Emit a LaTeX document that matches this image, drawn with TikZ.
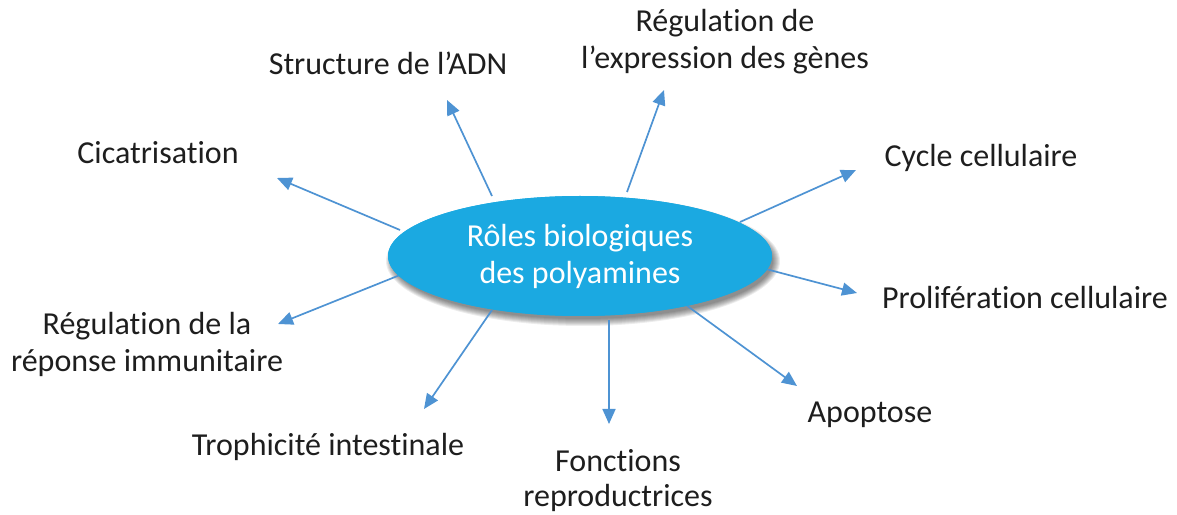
\documentclass[tikz,border=0pt]{standalone}
\usepackage{fontspec}
\setmainfont[RawFeature={-liga;-calt;-clig;-dlig}]{Carlito}
\usetikzlibrary{shapes.geometric,arrows.meta}
\definecolor{ellfill}{HTML}{1BA9E1}
\definecolor{arrcol}{HTML}{4E93D3}
\definecolor{txtcol}{HTML}{1E1E1E}
\tikzset{
  lbl/.style={text=txtcol,font=\fontsize{32bp}{37bp}\selectfont,inner sep=0pt,align=center},
  conn/.style={draw=arrcol,line width=1.7bp,-{Triangle[length=15bp,width=13bp]}},
}
\begin{document}
\begin{tikzpicture}[x=1bp,y=-1bp]
\useasboundingbox (0,0) rectangle (1177,515);
% soft shadow
\foreach \k in {0,...,7} {
  \fill[black,opacity=0.07] (583,261) ellipse [x radius={190+7-\k}, y radius={58+7-\k}];
}
\node[ellipse,fill=ellfill,minimum width=384bp,minimum height=120bp,inner sep=0pt,
  text=white,font=\fontsize{32bp}{37bp}\selectfont,align=center] (c) at (580,256)
  {Rôles biologiques\\des polyamines};

\node[lbl] (adn) at (388,63) {Structure de l’ADN};
\node[lbl] (expr) at (725,42) {Régulation de\\l’expression des gènes};
\node[lbl] (cica) at (158,153) {Cicatrisation};
\node[lbl] (cyc) at (981,158) {Cycle cellulaire};
\node[lbl] (prol) at (1025,298) {Prolifération cellulaire};
\node[lbl] (immu) at (147,344) {Régulation de la\\réponse immunitaire};
\node[lbl] (tro) at (328,447) {Trophicité intestinale};
\node[lbl,font=\fontsize{32bp}{35bp}\selectfont] (fonc) at (618,481) {Fonctions\\reproductrices};
\node[lbl] (apo) at (870,415) {Apoptose};

\coordinate (s1) at (492,196); \coordinate (e1) at (447,100);
\coordinate (s2) at (627,192); \coordinate (e2) at (664,90);
\coordinate (s3) at (740,222); \coordinate (e3) at (856,170);
\coordinate (s4) at (762,268); \coordinate (e4) at (857,293);
\coordinate (s5) at (686,305); \coordinate (e5) at (797,386);
\coordinate (s6) at (609,320); \coordinate (e6) at (609,424);
\coordinate (s7) at (492,310); \coordinate (e7) at (424,409);
\coordinate (s8) at (400,275); \coordinate (e8) at (278,324);
\coordinate (s9) at (400,230); \coordinate (e9) at (277,178);

\foreach \i in {1,...,9} { \draw[conn] (s\i) -- (e\i); }
\node[ellipse,fill=ellfill,minimum width=384bp,minimum height=120bp,inner sep=0pt,
  text=white,font=\fontsize{32bp}{37bp}\selectfont,align=center] at (c.center)
  {Rôles biologiques\\des polyamines};
\end{tikzpicture}
\end{document}
